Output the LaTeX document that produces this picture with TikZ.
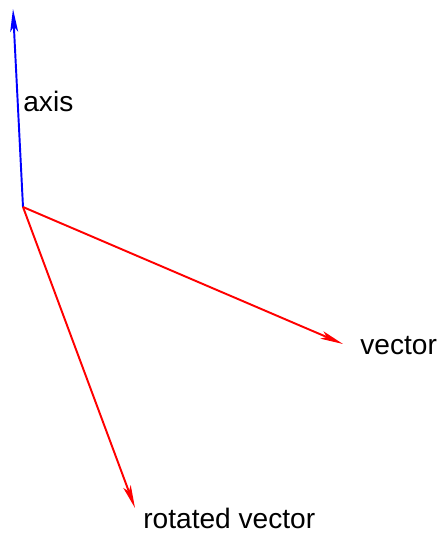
\documentclass[tikz,border=0pt]{standalone}
\usepackage{fontspec}
\setmainfont{Liberation Sans}
\usetikzlibrary{arrows.meta}
\begin{document}
\begin{tikzpicture}[x=0.02cm,y=-0.02cm]
			% Styles (MODIFIABLES)
			\tikzstyle{fleche}=[-{Stealth[length=13pt,width=4.5pt,inset=3pt]},line width=1.1pt]
			\tikzstyle{etiquette}=[inner sep=0pt,font=\fontsize{16}{19}\selectfont]
			% Cadre
			\useasboundingbox (0,0) rectangle (443,534);
			% Points
			\coordinate (O) at (23,207);
			\coordinate (Axe) at (13,9);
			\coordinate (V) at (343,344);
			\coordinate (VR) at (135,508);
			% Etiquettes
			\node[etiquette, anchor=west] (axis) at (23,101) {axis};
			\node[etiquette, anchor=west] (vector) at (360,346) {vector};
			\node[etiquette, anchor=west] (rotated) at (143,518) {rotated vector};
			% Vecteurs
			\draw[fleche, blue] (O)--(Axe);
			\draw[fleche, red] (O)--(V);
			\draw[fleche, red] (O)--(VR);
		\end{tikzpicture}
\end{document}
